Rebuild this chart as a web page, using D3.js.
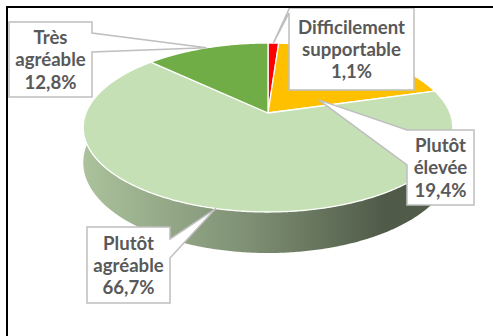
<!DOCTYPE html>
<html>
<head>
<meta charset="utf-8">
<script src="https://cdn.jsdelivr.net/npm/d3@7"></script>
<style>
  html, body { margin: 0; padding: 0; background: #ffffff; }
  svg { display: block; }
  text { font-family: Lato, "Open Sans", sans-serif; font-weight: 700; }
</style>
</head>
<body>
<script>
// Slices, clockwise from 12 o'clock
const categories = ["Difficilement supportable", "Plutôt élevée", "Plutôt agréable", "Très agréable"];
const values = [1.1, 19.4, 66.7, 12.8];
const colors = ["#FF0000", "#FFC000", "#C5E0B4", "#70AD47"];
const labelLines = [["Difficilement", "supportable"], ["Plutôt", "élevée"], ["Plutôt", "agréable"], ["Très", "agréable"]];

// Callout boxes: rectangle, wedge base on one side, and where the pointer lands (angle fraction, radius fraction)
const callouts = [
  { x: 289, y: 8,   w: 125, h: 82, side: "left",  b0: 9,   b1: 13,  at: null,  r: 1 },
  { x: 407, y: 130, w: 67,  h: 75, side: "left",  b0: 130, b1: 165, at: 0.167, r: 0.33 },
  { x: 87,  y: 227, w: 83,  h: 76, side: "right", b0: 239, b1: 258, at: null,  r: 1 },
  { x: 9,   y: 22,  w: 83,  h: 75, side: "right", b0: 33,  b1: 52,  at: null,  r: 1 }
];

const W = 493, H = 336;
const svg = d3.select("body").append("svg").attr("width", W).attr("height", H);
const defs = svg.append("defs");

// Tilted disc with a little perspective
const cx = 268, cy = 113, rx = 182, ry = 82, k = 0.1716, depth = 34;
function proj(a, r = 1, dz = 0) {
  const t = a - Math.PI / 2;
  const c = Math.cos(t), s = Math.sin(t);
  const p = 1 / (1 - k * r * s);
  return [cx + rx * r * c * p, cy + ry * r * s * p + dz * p];
}
function arcPts(a0, a1, r, dz) {
  const n = Math.max(2, Math.ceil(Math.abs(a1 - a0) / 0.01));
  return d3.range(n + 1).map(i => proj(a0 + (a1 - a0) * i / n, r, dz));
}

const data = categories.map((c, i) => ({ name: c, value: values[i], color: colors[i], lines: labelLines[i], box: callouts[i] }));
const arcs = d3.pie().sort(null).value(d => d.value).startAngle(0).endAngle(2 * Math.PI)(data);

// Side walls: only the front half of the rim is ever seen
const frontA0 = Math.PI / 2 - 0.2, frontA1 = 3 * Math.PI / 2 + 0.2;
const line = d3.line();
arcs.forEach((d, i) => {
  const g = defs.append("linearGradient").attr("id", "side" + i)
    .attr("gradientUnits", "userSpaceOnUse")
    .attr("x1", cx - rx - 3).attr("x2", cx + rx + 3).attr("y1", 0).attr("y2", 0);
  const base = d3.color(d.data.color);
  [[0, 0.4], [0.45, 1.25], [0.82, 2.55], [1, 2.45]].forEach(([o, dk]) =>
    g.append("stop").attr("offset", o).attr("stop-color", base.darker(dk).formatHex()));
});
arcs.forEach((d, i) => {
  const a0 = Math.max(d.startAngle, frontA0), a1 = Math.min(d.endAngle, frontA1);
  if (a1 <= a0) return;
  const top = arcPts(a0, a1, 1, 0);
  const bot = arcPts(a0, a1, 1, depth).reverse();
  svg.append("path").attr("d", line(top.concat(bot)) + "Z")
    .attr("fill", `url(#side${i})`);
});

// Top face
arcs.forEach(d => {
  const pts = [proj(0, 0)].concat(arcPts(d.startAngle, d.endAngle, 1, 0));
  svg.append("path").attr("d", line(pts) + "Z")
    .attr("fill", d.data.color)
    .attr("stroke", "#ffffff").attr("stroke-width", 1.3).attr("stroke-linejoin", "round");
});

// Data callouts
const fmt = v => v.toFixed(1).replace(".", ",") + "%";
function calloutPath(b, tip) {
  const x0 = b.x, y0 = b.y, x1 = b.x + b.w, y1 = b.y + b.h;
  if (b.side === "left") {
    return `M${x0},${y0}H${x1}V${y1}H${x0}V${b.b1}L${tip[0]},${tip[1]}L${x0},${b.b0}Z`;
  }
  return `M${x0},${y0}H${x1}V${b.b0}L${tip[0]},${tip[1]}L${x1},${b.b1}V${y1}H${x0}Z`;
}
arcs.forEach(d => {
  const b = d.data.box;
  const a = b.at == null ? (d.startAngle + d.endAngle) / 2 : b.at * 2 * Math.PI;
  const tip = proj(a, b.r, 0);
  svg.append("path").attr("d", calloutPath(b, tip))
    .attr("fill", "#ffffff").attr("stroke", "#BFBFBF").attr("stroke-width", 1.5)
    .attr("stroke-linejoin", "miter");
  const lines = d.data.lines.concat([fmt(d.data.value)]);
  const mid = b.x + b.w / 2;
  const firstBase = b.y + b.h / 2 - 22 + 6.5;
  svg.append("text").attr("text-anchor", "middle").attr("fill", "#595959").attr("font-size", 18.6)
    .selectAll("tspan").data(lines).join("tspan")
    .attr("x", mid).attr("y", (t, j) => firstBase + j * 22.3)
    .text(t => t);
});

// Chart frame
svg.append("rect").attr("x", 7).attr("y", 7).attr("width", 700).attr("height", 500)
  .attr("fill", "none").attr("stroke", "#000000").attr("stroke-width", 2);
</script>
</body>
</html>
